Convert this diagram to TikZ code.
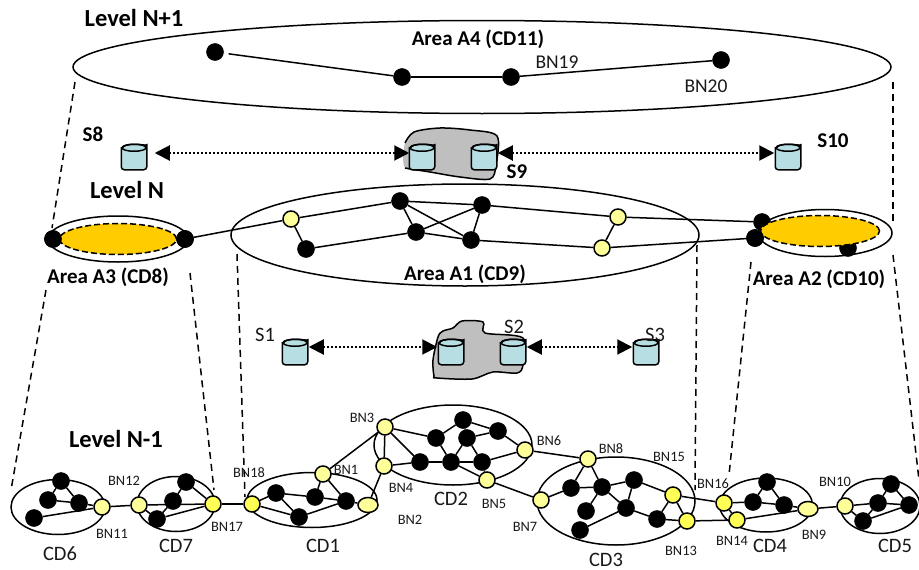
\documentclass[tikz,border=0pt]{standalone}
\usepackage{fontspec}
\setmainfont{Carlito}
\usetikzlibrary{arrows.meta, shapes.geometric}
\definecolor{paleyellow}{HTML}{FFFF99}
\definecolor{brightyellow}{HTML}{FFFF55}
\definecolor{coreorange}{HTML}{FFCC00}
\definecolor{storeblue}{HTML}{B7DFE3}
\definecolor{blobgray}{HTML}{BFBFBF}
\newcommand{\drum}[1]{
  \draw[fill=storeblue] ([yshift=-3.5pt]#1.north west) [rounded corners=3pt] -- (#1.south west)
    -- (#1.south east)
    -- ([yshift=-3.5pt]#1.north east) [sharp corners]
    arc[start angle=0,end angle=180,x radius=12pt,y radius=3.5pt] -- cycle;
  \draw ([yshift=-3.5pt]#1.north) ellipse[x radius=12pt,y radius=3.5pt];
}

\begin{document}
\begin{tikzpicture}[x=1pt,y=-1pt,line width=1.5pt,
    hub node/.style={circle,draw,fill=black,minimum size=17pt,inner sep=0pt,line width=0.5pt},
    bn node/.style={circle,draw,fill=paleyellow,minimum size=16pt,inner sep=0pt},
    bright node/.style={circle,draw,fill=brightyellow,minimum size=16pt,inner sep=0pt},
    oval node/.style={ellipse,draw,fill=paleyellow,minimum width=20pt,minimum height=15pt,inner sep=0pt},
    area/.style={ellipse,draw,inner sep=0pt},
    core/.style={ellipse,draw,dash pattern=on 6pt off 3pt,fill=coreorange,inner sep=0pt},
    store/.style={rectangle,minimum size=24pt,inner sep=0pt},
    sync/.style={dash pattern=on 2pt off 2pt,line width=2pt,{Triangle[width=15pt,length=15pt]}-{Triangle[width=15pt,length=15pt]}},
    guide/.style={dash pattern=on 7pt off 5pt},
    link/.style={},
    head/.style={inner sep=0pt,font=\bfseries\fontsize{24.5}{28}\selectfont},
    title/.style={inner sep=0pt,font=\bfseries\fontsize{21}{25}\selectfont},
    cdlabel/.style={inner sep=0pt,font=\fontsize{20.5}{24}\selectfont,text=black!90},
    midlabel/.style={inner sep=0pt,font=\fontsize{19.5}{23}\selectfont,text=black!90},
    bnlabel/.style={inner sep=0pt,font=\fontsize{14.4}{17}\selectfont,text=black!90}]

\useasboundingbox (0,0) rectangle (919,570);

\node[area,minimum width=818pt,minimum height=93pt]  (a4)  at (482,67)  {};
\node[area,minimum width=468pt,minimum height=102pt] (a1)  at (465,235) {};
\node[area,minimum width=140pt,minimum height=46pt]  (a3)  at (118,239) {};
\node[area,minimum width=134pt,minimum height=47pt]  (a2)  at (825,233) {};
\node[area,minimum width=94pt,minimum height=55pt]   (cd6) at (58,507)  {};
\node[area,minimum width=78pt,minimum height=55pt]   (cd7) at (176,504) {};
\node[area,minimum width=130pt,minimum height=55pt]  (cd1) at (312,500) {};
\node[area,minimum width=158pt,minimum height=80pt]  (cd2) at (453,445) {};
\node[area,minimum width=158pt,minimum height=88pt]  (cd3) at (616,501) {};
\node[area,minimum width=93pt,minimum height=54pt]   (cd4) at (766,505) {};
\node[area,minimum width=80pt,minimum height=55pt]   (cd5) at (880,506) {};

\coordinate (g1a) at (75,82);   \coordinate (g1b) at (52,228);
\coordinate (g2a) at (893,82);  \coordinate (g2b) at (893,225);
\coordinate (g3a) at (46,290);  \coordinate (g3b) at (11,490);
\coordinate (g4a) at (190,273); \coordinate (g4b) at (214,490);
\coordinate (g5a) at (237,254); \coordinate (g5b) at (245,497);
\coordinate (g6a) at (697,245); \coordinate (g6b) at (695,490);
\coordinate (g7a) at (751,262); \coordinate (g7b) at (729,475);
\coordinate (g8a) at (893,255); \coordinate (g8b) at (919,480);

\path[guide]
(g1a) edge (g1b)
(g2a) edge (g2b)
(g3a) edge (g3b)
(g4a) edge (g4b)
(g5a) edge (g5b)
(g6a) edge (g6b)
(g7a) edge (g7b)
(g8a) edge (g8b)
;

\fill[blobgray] plot[smooth cycle,tension=0.5] coordinates {(405,143) (414,132) (440,128) (470,130) (497,136) (496,165) (490,179) (460,177) (430,172) (405,168)};
\draw plot[smooth,tension=0.5] coordinates {(405,143) (414,132) (440,128) (470,130) (497,136) (496,165) (490,179) (460,177) (430,172) (405,168)};
\draw[fill=blobgray] plot[smooth cycle,tension=0.5] coordinates {(434,376) (433,360) (438,337) (443,331) (453,328) (462,321) (483,322) (485,333) (523,338) (523,365) (517,373) (493,372) (472,379) (437,378)};

\node[hub node] (t1) at (215,52) {};
\node[hub node] (t2) at (402,77) {};
\node[hub node] (t3) at (511,77) {};
\node[hub node] (t4) at (721,60) {};

\node[hub node] (m1)  at (53,239)  {};
\node[hub node] (m2)  at (185,239) {};
\node[bn node]  (m3)  at (291,219) {};
\node[hub node] (m4)  at (306,249) {};
\node[hub node] (m5)  at (400,201) {};
\node[hub node] (m6)  at (416,232) {};
\node[hub node] (m7)  at (482,205) {};
\node[hub node] (m8)  at (471,240) {};
\node[bn node]  (m9)  at (618,217) {};
\node[bn node]  (m10) at (602,248) {};
\node[hub node] (m11) at (762,222) {};
\node[hub node] (m12) at (848,248) {};
\node[hub node] (m13) at (755,238) {};

\node[core,minimum width=117pt,minimum height=31pt] (c3) at (118,239) {};
\node[core,minimum width=119pt,minimum height=31pt] (c2) at (820,231) {};
\node[hub node] at (m1) {};
\node[hub node] at (m2) {};
\node[hub node] at (m13) {};

\node[hub node]   (n1)  at (61,481)  {};
\node[hub node]   (n2)  at (48,500)  {};
\node[hub node]   (n3)  at (79,503)  {};
\node[hub node]   (n4)  at (34,518)  {};
\node[bn node]    (bn11) at (102,507) {};
\node[bn node]    (bn12) at (139,505) {};
\node[hub node]   (n5)  at (186,482) {};
\node[hub node]   (n6)  at (173,501) {};
\node[hub node]   (n7)  at (157,519) {};
\node[bright node] (bn17) at (213,504) {};
\node[bright node] (bn18) at (252,504) {};
\node[hub node]   (n8)  at (276,493) {};
\node[hub node]   (n9)  at (315,497) {};
\node[hub node]   (n10) at (346,501) {};
\node[hub node]   (n11) at (299,517) {};
\node[bn node]    (bn1) at (323,474) {};
\node[oval node]  (bn2) at (368,505) {};
\node[bn node]    (bn3) at (385,427) {};
\node[bn node]    (bn4) at (384,466) {};
\node[hub node]   (n12) at (463,420) {};
\node[hub node]   (n13) at (498,431) {};
\node[hub node]   (n14) at (436,438) {};
\node[hub node]   (n15) at (467,438) {};
\node[hub node]   (n16) at (420,462) {};
\node[hub node]   (n17) at (451,462) {};
\node[hub node]   (n18) at (482,462) {};
\node[bn node]    (bn6) at (525,450) {};
\node[bn node]    (bn5) at (487,480) {};
\node[bn node]    (bn7) at (541,500) {};
\node[bn node]    (bn8) at (588,459) {};
\node[hub node]   (n19) at (571,488) {};
\node[hub node]   (n20) at (602,487) {};
\node[hub node]   (n21) at (634,480) {};
\node[hub node]   (n22) at (586,511) {};
\node[hub node]   (n23) at (626,508) {};
\node[hub node]   (n24) at (580,530) {};
\node[hub node]   (n25) at (657,519) {};
\node[bright node] (bn15) at (673,495) {};
\node[bright node] (bn13) at (687,521) {};
\node[bright node] (bn16) at (724,503) {};
\node[bright node] (bn14) at (737,520) {};
\node[hub node]   (n26) at (767,482) {};
\node[hub node]   (n27) at (753,502) {};
\node[hub node]   (n28) at (784,505) {};
\node[oval node]  (bn9) at (808,509) {};
\node[bn node]    (bn10) at (845,506) {};
\node[hub node]   (n29) at (891,484) {};
\node[hub node]   (n30) at (878,503) {};
\node[hub node]   (n31) at (909,505) {};
\node[hub node]   (n32) at (863,521) {};

\path[link]
(t1) edge[shorten <=5pt] (t2)
(t2) edge (t3)
(t3) edge (t4)

(m2) edge (m3)
(m3) edge (m5)
(m3) edge (m4)
(m4) edge (m6)
(m5) edge (m6)
(m5) edge (m7)
(m5) edge (m8)
(m6) edge (m7)
(m6) edge (m8)
(m7) edge (m8)
(m7) edge (m9)
(m8) edge (m10)
(m9) edge (m10)
(m9) edge (m11)
(m10) edge (m13)

(n1) edge (n2)
(n1) edge (n3)
(n2) edge (n3)
(n3) edge (bn11)
(n4) edge (bn11)
(bn11) edge (bn12)
(bn12) edge (bn17)
(bn12) edge (n7)
(n5) edge (n6)
(n5) edge (bn17)
(n6) edge (n7)
(n7) edge (bn17)
(bn17) edge (bn18)

(bn18) edge (n8)
(bn18) edge (n11)
(n8) edge (n9)
(n8) edge (n11)
(n9) edge (n10)
(n9) edge (bn1)
(bn1) edge (n10)
(n10) edge (bn2)
(n11) edge (n10)
(bn1) edge (bn3)
(bn2) edge (bn4)

(bn3) edge (bn4)
(bn3) edge (n16)
(bn3) edge (n14)
(bn4) edge (n16)
(n16) edge (n17)
(n17) edge (n18)
(n14) edge (n12)
(n14) edge (n17)
(n12) edge (n13)
(n12) edge (n15)
(n15) edge (n13)
(n15) edge (n17)
(n15) edge (n18)
(n18) edge (bn6)
(n13) edge (bn6)
(n17) edge (bn5)
(n18) edge (bn5)
(bn5) edge (bn7)
(bn6) edge (bn8)

(bn7) edge (n19)
(bn8) edge (n19)
(bn8) edge (n20)
(n19) edge (n20)
(n20) edge (n21)
(n20) edge (n22)
(n20) edge (n23)
(n21) edge (n23)
(n21) edge (bn15)
(n23) edge (n24)
(n23) edge (n25)
(n25) edge (bn15)
(n25) edge (bn13)
(bn15) edge (bn13)
(bn15) edge (bn16)
(bn13) edge (bn14)

(bn16) edge (n27)
(bn16) edge (bn14)
(bn14) edge (bn9)
(n27) edge (n26)
(n26) edge (n28)
(n27) edge (n28)
(n28) edge (bn9)
(bn9) edge (bn10)

(bn10) edge (n30)
(bn10) edge (n32)
(n30) edge (n29)
(n29) edge (n31)
(n30) edge (n31)
(n30) edge (n32)
(n32) edge (n31)
;

\node[store] (s8)  at (134,157) {};
\node[store] (s9a) at (422,157) {};
\node[store] (s9b) at (484,157) {};
\node[store] (s10) at (788,157) {};
\node[store] (s1)  at (295,352) {};
\node[store] (s2a) at (451,352) {};
\node[store] (s2b) at (513,352) {};
\node[store] (s3)  at (646,352) {};
\drum{s8}
\drum{s9a}
\drum{s9b}
\drum{s10}
\drum{s1}
\drum{s2a}
\drum{s2b}
\drum{s3}

\path[sync]
([shift={(8pt,4pt)}]s8.east) edge ([shift={(0pt,4pt)}]s9a.west)
([shift={(1pt,4pt)}]s9b.east) edge ([shift={(-1pt,4pt)}]s10.west)
([shift={(1pt,5pt)}]s1.east) edge ([shift={(-1pt,5pt)}]s2a.west)
([shift={(1pt,5pt)}]s2b.east) edge ([shift={(-1pt,5pt)}]s3.west)
;

\node[head]  (lv1) at (134,18)  {Level N+1};
\node[head]  (lv2) at (127,190) {Level N};
\node[head]  (lv3) at (116,439) {Level N-1};
\node[title] (la4) at (478,39)  {Area A4 (CD11)};
\node[title] (la1) at (465,274) {Area A1 (CD9)};
\node[title] (la2) at (819,279) {Area A2 (CD10)};
\node[title] (la3) at (108,277) {Area A3 (CD8)};
\node[title] (ls8)  at (93,134)  {S8};
\node[title] (ls9)  at (517,172) {S9};
\node[title] (ls10) at (833,141) {S10};
\node[cdlabel] (ls1) at (265,335) {S1};
\node[cdlabel] (ls2) at (514,327) {S2};
\node[cdlabel] (ls3) at (655,335) {S3};
\node[midlabel] (lb19) at (557,62) {BN19};
\node[midlabel] (lb20) at (706,86) {BN20};
\node[cdlabel] (lc6) at (60,554)  {CD6};
\node[cdlabel] (lc7) at (176,546) {CD7};
\node[cdlabel] (lc1) at (323,546) {CD1};
\node[cdlabel] (lc2) at (451,499) {CD2};
\node[cdlabel] (lc3) at (606,560) {CD3};
\node[cdlabel] (lc4) at (770,546) {CD4};
\node[cdlabel] (lc5) at (895,546) {CD5};
\node[bnlabel] at (346,470) {BN1};
\node[bnlabel] at (410,520) {BN2};
\node[bnlabel] at (362,418) {BN3};
\node[bnlabel] at (401,488) {BN4};
\node[bnlabel] at (494,504) {BN5};
\node[bnlabel] at (549,441) {BN6};
\node[bnlabel] at (525,527) {BN7};
\node[bnlabel] at (611,449) {BN8};
\node[bnlabel] at (814,535) {BN9};
\node[bnlabel] at (835,482) {BN10};
\node[bnlabel] at (112,534) {BN11};
\node[bnlabel] at (124,481) {BN12};
\node[bnlabel] at (681,551) {BN13};
\node[bnlabel] at (732,541) {BN14};
\node[bnlabel] at (669,457) {BN15};
\node[bnlabel] at (713,484) {BN16};
\node[bnlabel] at (227,527) {BN17};
\node[bnlabel] at (249,473) {BN18};

\end{tikzpicture}
\end{document}
